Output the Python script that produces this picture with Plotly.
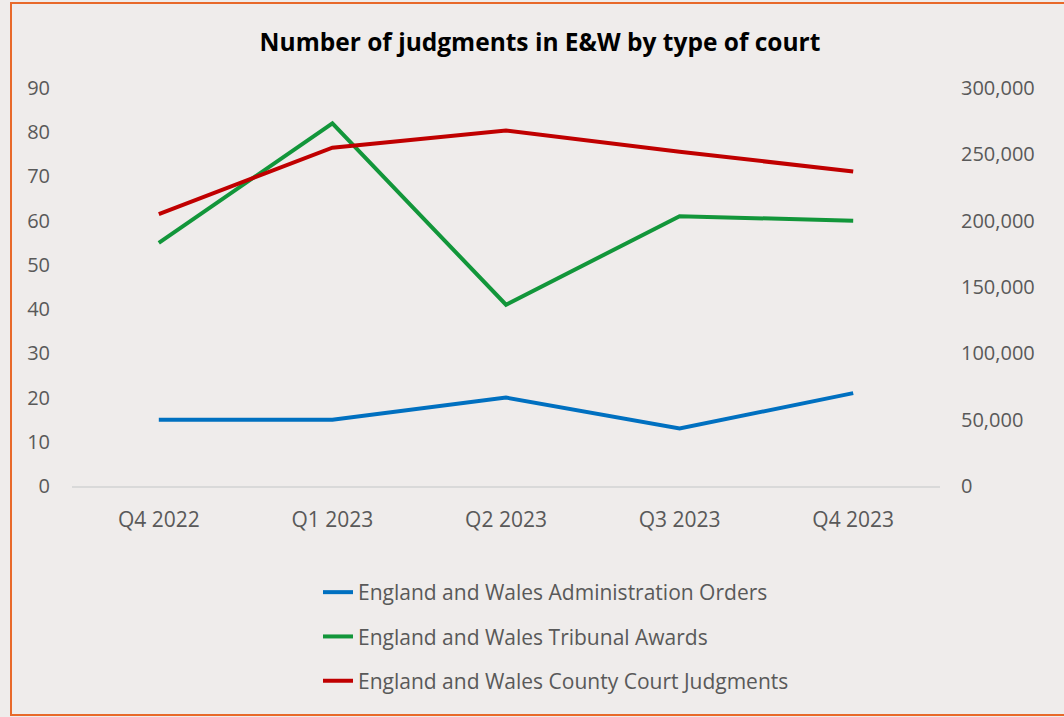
import plotly.graph_objects as go

quarters = ["Q4 2022", "Q1 2023", "Q2 2023", "Q3 2023", "Q4 2023"]
admin_orders = [15, 15, 20, 13, 21]
tribunal_awards = [55, 82, 41, 61, 60]
ccj = [205000, 255000, 268000, 252000, 237000]

names = ["England and Wales Administration Orders",
         "England and Wales Tribunal Awards",
         "England and Wales County Court Judgments"]

bg = "#EFECEB"
fnt = "Open Sans"
grey = "#595959"

fig = go.Figure()
fig.add_trace(go.Scatter(x=quarters, y=admin_orders, name=names[0], mode="lines",
                         line=dict(color="#0070C0", width=4), legendgroup="a"))
fig.add_trace(go.Scatter(x=quarters, y=tribunal_awards, name=names[1], mode="lines",
                         line=dict(color="#12963A", width=4), legendgroup="b"))
fig.add_trace(go.Scatter(x=quarters, y=ccj, name=names[2], mode="lines", yaxis="y2",
                         line=dict(color="#C00000", width=4), legendgroup="c"))

W, H = 1064, 717
L, R, T, B = 72, 940, 88, 486
pw, ph = R - L, B - T

fig.update_layout(
    width=W, height=H,
    paper_bgcolor=bg, plot_bgcolor=bg,
    margin=dict(l=L, r=W - R, t=T, b=H - B, pad=0),
    title=dict(text="<b>Number of judgments in E&W by type of court</b>",
               x=540 / W, xanchor="center", y=1 - 42 / H, yanchor="middle",
               font=dict(family=fnt, size=24.5, color="#000000")),
    font=dict(family=fnt, size=21, color=grey),
    xaxis=dict(range=[-0.5, 4.5], showgrid=False, showline=True, linecolor="#D9D9D9", linewidth=2,
               ticks="", tickfont=dict(size=21, color=grey), zeroline=False,
               ticklabelstandoff=14),
    yaxis=dict(range=[0, 90], dtick=10, showgrid=False, zeroline=False, ticks="",
               tickfont=dict(size=20, color=grey), ticklabelstandoff=21),
    yaxis2=dict(range=[0, 300000], dtick=50000, tickformat=",", overlaying="y", side="right",
                showgrid=False, zeroline=False, ticks="", tickfont=dict(size=20, color=grey),
                ticklabelstandoff=20),
    legend=dict(orientation="v", x=(318 - L) / pw, xanchor="left",
                y=-(572 - B) / ph, yanchor="top",
                traceorder="grouped", tracegroupgap=14, bgcolor="rgba(0,0,0,0)",
                font=dict(family=fnt, size=21, color=grey)),
    shapes=[dict(type="rect", xref="paper", yref="paper",
                 x0=(11 - L) / pw, x1=(1075 - L) / pw,
                 y0=-(715 - B) / ph, y1=(B - 3) / ph,
                 line=dict(color="#E8692A", width=2),
                 fillcolor="rgba(0,0,0,0)", layer="above")]
)

fig.write_html("out.html", config={"displayModeBar": False},
               post_script="document.body.style.margin='0';")
